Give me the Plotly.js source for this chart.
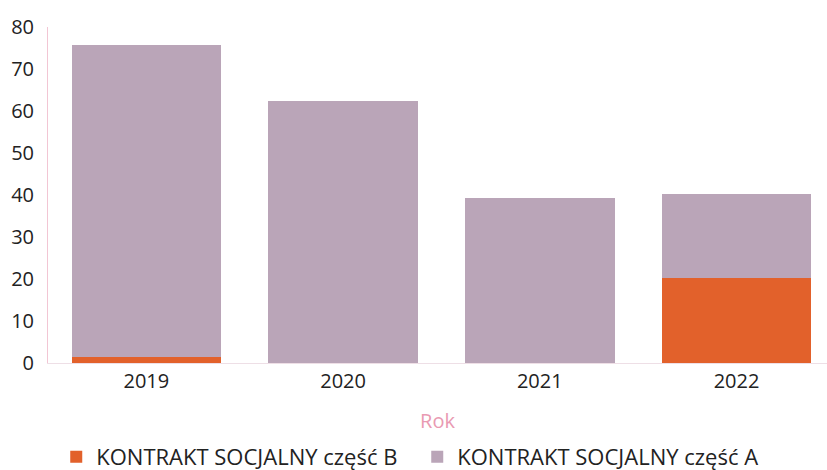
<!DOCTYPE html>
<html>
<head>
<meta charset="utf-8">
<script src="https://cdn.plot.ly/plotly-3.0.1.min.js"></script>
<style>html,body{margin:0;padding:0;background:#fff}#chart{width:827px;height:470px}</style>
</head>
<body>
<div id="chart"></div>
<script>
const years = ["2019", "2020", "2021", "2022"];
const partB = [1.5, 0, 0, 20.2];
const partA = [74.2, 62.3, 39.3, 20.1];
const seriesNames = ["KONTRAKT SOCJALNY część B", "KONTRAKT SOCJALNY część A"];
const yTicks = [0, 10, 20, 30, 40, 50, 60, 70, 80];

const traces = [
  {type: "bar", name: seriesNames[0], x: years, y: partB,
   marker: {color: "#e2612b"}, hoverinfo: "x+y"},
  {type: "bar", name: seriesNames[1], x: years, y: partA,
   marker: {color: "#baa5b8"}, hoverinfo: "x+y"}
];

const layout = {
  width: 827, height: 470,
  margin: {l: 48, r: 0, t: 27, b: 107, autoexpand: false},
  barmode: "stack",
  bargap: 0.24,
  paper_bgcolor: "#ffffff",
  plot_bgcolor: "#ffffff",
  font: {family: "Open Sans, Noto Sans, sans-serif", color: "#222222", size: 20},
  xaxis: {
    type: "category",
    range: [-0.5, 3.46],
    showline: true, linecolor: "#eedfe6", linewidth: 1,
    ticks: "", showgrid: false,
    tickfont: {size: 20, color: "#222222"},
    title: {text: "Rok", font: {size: 20, color: "#e99ab2"}, standoff: 20}
  },
  yaxis: {
    range: [0, 80],
    tickvals: yTicks,
    showline: true, linecolor: "#f2c6d4", linewidth: 1,
    showgrid: false, zeroline: false, ticks: "",
    ticklabelstandoff: 9,
    tickfont: {size: 20, color: "#222222"}
  },
  legend: {
    orientation: "h", x: 0.474, xanchor: "center", y: -0.342, yanchor: "bottom",
    font: {size: 22, color: "#222222"}, traceorder: "normal", itemwidth: 30,
    entrywidth: 316, tracegroupgap: 0
  },
  showlegend: true
};

Plotly.newPlot("chart", traces, layout, {displayModeBar: false, staticPlot: true});
</script>
</body>
</html>
